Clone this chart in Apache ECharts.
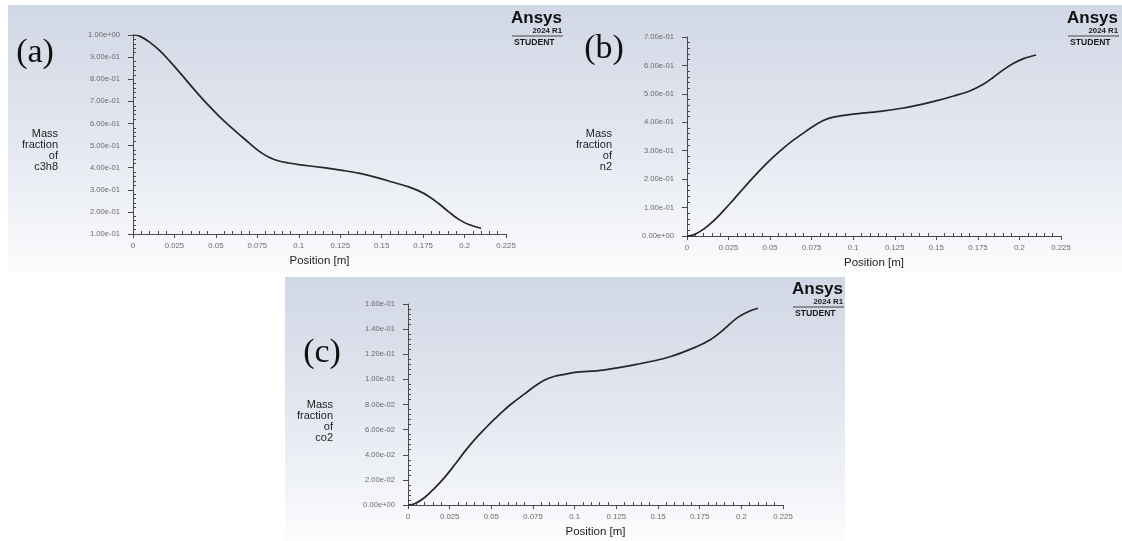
<!DOCTYPE html>
<html>
<head>
<meta charset="utf-8">
<title>Mass fraction along the axis</title>
<script src="https://cdn.jsdelivr.net/npm/echarts@6/dist/echarts.min.js"></script>
<style>
  html, body { margin: 0; padding: 0; background: #ffffff; }
  #chart { width: 1122px; height: 541px; }
</style>
</head>
<body>
<div id="chart"></div>
<script>
// Position along the line [m] and mass fraction of each species
const posC3H8 = [0, 0.004, 0.010, 0.016, 0.022, 0.028, 0.034, 0.040, 0.046, 0.052, 0.058, 0.064, 0.070, 0.076, 0.082, 0.088, 0.094, 0.100, 0.1161, 0.1262, 0.1362, 0.1483, 0.1563, 0.1663, 0.1724, 0.1785, 0.1845, 0.1905, 0.1965, 0.2025, 0.2100];
const c3h8    = [1.000, 0.995, 0.968, 0.930, 0.883, 0.832, 0.779, 0.727, 0.678, 0.632, 0.590, 0.551, 0.512, 0.475, 0.447, 0.430, 0.421, 0.414, 0.399, 0.388, 0.375, 0.353, 0.335, 0.313, 0.295, 0.270, 0.237, 0.200, 0.166, 0.143, 0.126];

const posN2 = [0, 0.004, 0.010, 0.016, 0.022, 0.028, 0.034, 0.040, 0.046, 0.052, 0.058, 0.064, 0.070, 0.076, 0.082, 0.088, 0.094, 0.100, 0.1163, 0.1303, 0.1404, 0.1504, 0.1604, 0.1704, 0.1785, 0.1845, 0.1905, 0.1965, 0.2025, 0.2100];
const n2    = [0, 0.004, 0.024, 0.053, 0.089, 0.128, 0.168, 0.207, 0.244, 0.278, 0.309, 0.337, 0.362, 0.386, 0.406, 0.418, 0.424, 0.429, 0.4385, 0.4502, 0.4620, 0.4760, 0.4924, 0.5112, 0.5347, 0.5593, 0.5851, 0.6073, 0.6238, 0.6367];

const posCO2 = [0, 0.004, 0.010, 0.016, 0.022, 0.028, 0.034, 0.040, 0.046, 0.052, 0.058, 0.064, 0.070, 0.076, 0.082, 0.088, 0.094, 0.100, 0.1172, 0.1372, 0.1571, 0.1731, 0.1811, 0.1891, 0.1971, 0.2050, 0.2100];
const co2    = [0, 0.0010, 0.0060, 0.0135, 0.0220, 0.0320, 0.0425, 0.0520, 0.0605, 0.0685, 0.0760, 0.0825, 0.0885, 0.0945, 0.0995, 0.1025, 0.1040, 0.1055, 0.1074, 0.1119, 0.1180, 0.1260, 0.1313, 0.1393, 0.1486, 0.1544, 0.1566];

// Tick values and their printed labels
const xTicks      = [0, 0.025, 0.05, 0.075, 0.1, 0.125, 0.15, 0.175, 0.2, 0.225];
const xTickLabels = ['0', '0.025', '0.05', '0.075', '0.1', '0.125', '0.15', '0.175', '0.2', '0.225'];

const yTicksC3H8  = [0.1, 0.2, 0.3, 0.4, 0.5, 0.6, 0.7, 0.8, 0.9, 1.0];
const yLabelsC3H8 = ['1.00e-01', '2.00e-01', '3.00e-01', '4.00e-01', '5.00e-01', '6.00e-01', '7.00e-01', '8.00e-01', '9.00e-01', '1.00e+00'];

const yTicksN2  = [0, 0.1, 0.2, 0.3, 0.4, 0.5, 0.6, 0.7];
const yLabelsN2 = ['0.00e+00', '1.00e-01', '2.00e-01', '3.00e-01', '4.00e-01', '5.00e-01', '6.00e-01', '7.00e-01'];

const yTicksCO2  = [0, 0.02, 0.04, 0.06, 0.08, 0.10, 0.12, 0.14, 0.16];
const yLabelsCO2 = ['0.00e+00', '2.00e-02', '4.00e-02', '6.00e-02', '8.00e-02', '1.00e-01', '1.20e-01', '1.40e-01', '1.60e-01'];

const xName = 'Position [m]';
const panelLetters = ['(a)', '(b)', '(c)'];
const yNames = ['Mass\nfraction\nof\nc3h8', 'Mass\nfraction\nof\nn2', 'Mass\nfraction\nof\nco2'];
const logoLines = ['Ansys', '2024 R1', 'STUDENT'];

// ---------------------------------------------------------------------------
const SANS = '"Liberation Sans", Arial, sans-serif';
const SERIF = '"Liberation Serif", "Times New Roman", serif';
const AXIS_COLOR = '#4a4a4a';
const TICK_TEXT = '#6a6a6a';

function pairs(xs, ys) { return xs.map((x, i) => [x, ys[i]]); }
function tickFormatter(ticks, labels) {
  return function (v) {
    for (let i = 0; i < ticks.length; i++) {
      if (Math.abs(v - ticks[i]) < 1e-9) return labels[i];
    }
    return '';
  };
}

const panels = [
  { grid: { left: 133, top: 35, width: 373, height: 199 },
    yTicks: yTicksC3H8, yLabels: yLabelsC3H8, data: pairs(posC3H8, c3h8),
    bg: { x: 8, y: 5, w: 557, h: 268 },
    letter: { x: 35, y: 53 }, yName: { x: 58, y: 150 }, logoRight: 562, logoTop: 5 },
  { grid: { left: 687, top: 37, width: 374, height: 199 },
    yTicks: yTicksN2, yLabels: yLabelsN2, data: pairs(posN2, n2),
    bg: { x: 565, y: 5, w: 557, h: 268 },
    letter: { x: 604, y: 49 }, yName: { x: 612, y: 150 }, logoRight: 1118, logoTop: 5 },
  { grid: { left: 408, top: 304, width: 375, height: 201 },
    yTicks: yTicksCO2, yLabels: yLabelsCO2, data: pairs(posCO2, co2),
    bg: { x: 285, y: 277, w: 560, h: 264 },
    letter: { x: 322, y: 353 }, yName: { x: 333, y: 421 }, logoRight: 843, logoTop: 276 }
];

const grids = [], xAxes = [], yAxes = [], series = [], graphics = [];

panels.forEach((p, i) => {
  grids.push(Object.assign({ outerBoundsMode: 'none', containLabel: false }, p.grid));

  const yMin = p.yTicks[0], yMax = p.yTicks[p.yTicks.length - 1];
  const yStep = p.yTicks[1] - p.yTicks[0];

  // main x axis: line, outward major ticks, labels, name
  xAxes.push({
    type: 'value', gridIndex: i, position: 'bottom',
    min: xTicks[0], max: xTicks[xTicks.length - 1], interval: 0.025,
    name: xName, nameLocation: 'middle', nameGap: 21,
    nameTextStyle: { color: '#1e1e1e', fontSize: 11.5, fontFamily: SANS },
    axisLine: { show: true, lineStyle: { color: AXIS_COLOR, width: 1 } },
    axisTick: { show: true, length: 4, lineStyle: { color: AXIS_COLOR } },
    minorTick: { show: false },
    axisLabel: { show: true, margin: 8, color: TICK_TEXT, fontSize: 7.8, fontFamily: SANS,
                 formatter: tickFormatter(xTicks, xTickLabels) },
    splitLine: { show: false }
  });
  // companion x axis carrying the inward minor ticks
  xAxes.push({
    type: 'value', gridIndex: i, position: 'bottom',
    min: xTicks[0], max: xTicks[xTicks.length - 1], interval: 0.025,
    axisLine: { show: false },
    axisTick: { show: false, inside: true },
    minorTick: { show: true, splitNumber: 5, length: 3, lineStyle: { color: AXIS_COLOR, width: 1 } },
    axisLabel: { show: false },
    splitLine: { show: false }
  });

  yAxes.push({
    type: 'value', gridIndex: i, position: 'left',
    min: yMin, max: yMax, interval: yStep,
    axisLine: { show: true, lineStyle: { color: AXIS_COLOR, width: 1 } },
    axisTick: { show: true, length: 5, lineStyle: { color: AXIS_COLOR } },
    minorTick: { show: false },
    axisLabel: { show: true, margin: 13, color: TICK_TEXT, fontSize: 7.6, fontFamily: SANS,
                 formatter: tickFormatter(p.yTicks, p.yLabels) },
    splitLine: { show: false }
  });
  yAxes.push({
    type: 'value', gridIndex: i, position: 'left',
    min: yMin, max: yMax, interval: yStep,
    axisLine: { show: false },
    axisTick: { show: false, inside: true },
    minorTick: { show: true, splitNumber: 5, length: 3, lineStyle: { color: AXIS_COLOR, width: 1 } },
    axisLabel: { show: false },
    splitLine: { show: false }
  });

  series.push({
    type: 'line', xAxisIndex: 2 * i, yAxisIndex: 2 * i,
    data: p.data, smooth: 0.35, showSymbol: false, symbol: 'none',
    lineStyle: { color: '#262626', width: 1.7 },
    silent: true, animation: false, z: 3
  });

  // panel background: light blue-grey fading to white
  graphics.push({
    type: 'rect', z: -10, silent: true,
    shape: { x: p.bg.x, y: p.bg.y, width: p.bg.w, height: p.bg.h },
    style: {
      fill: new echarts.graphic.LinearGradient(0, 0, 0, 1, [
        { offset: 0, color: '#d1d7e5' },
        { offset: 0.5, color: '#e3e7f0' },
        { offset: 1, color: '#fbfcfd' }
      ])
    }
  });

  // panel letter
  graphics.push({
    type: 'text', z: 5, silent: true,
    style: { text: panelLetters[i], x: p.letter.x, y: p.letter.y,
             textAlign: 'center', textVerticalAlign: 'middle',
             fill: '#111111', font: '34px ' + SERIF }
  });

  // y-axis title, right aligned, stacked lines
  graphics.push({
    type: 'text', z: 5, silent: true,
    style: { text: yNames[i], x: p.yName.x, y: p.yName.y,
             textAlign: 'right', textVerticalAlign: 'middle', lineHeight: 11,
             fill: '#1e1e1e', font: '11px ' + SANS }
  });

  // product badge in the upper right corner
  const r = p.logoRight, t = p.logoTop;
  graphics.push({
    type: 'text', z: 5, silent: true,
    style: { text: logoLines[0], x: r, y: t + 13, textAlign: 'right', textVerticalAlign: 'middle',
             fill: '#111111', font: 'bold 17px ' + SANS }
  });
  graphics.push({
    type: 'text', z: 5, silent: true,
    style: { text: logoLines[1], x: r, y: t + 25.5, textAlign: 'right', textVerticalAlign: 'middle',
             fill: '#1a1a1a', font: 'bold 7.8px ' + SANS }
  });
  graphics.push({
    type: 'line', z: 5, silent: true,
    shape: { x1: r - 50, y1: t + 31, x2: r + 1, y2: t + 31 },
    style: { stroke: '#444444', lineWidth: 1 }
  });
  graphics.push({
    type: 'text', z: 5, silent: true,
    style: { text: logoLines[2], x: r - 48, y: t + 38, textAlign: 'left', textVerticalAlign: 'middle',
             fill: '#1a1a1a', font: 'bold 8.6px ' + SANS }
  });
});

const chart = echarts.init(document.getElementById('chart'), null, { renderer: 'canvas' });
chart.setOption({
  animation: false,
  backgroundColor: '#ffffff',
  grid: grids,
  xAxis: xAxes,
  yAxis: yAxes,
  series: series,
  graphic: { elements: graphics }
});
</script>
</body>
</html>
